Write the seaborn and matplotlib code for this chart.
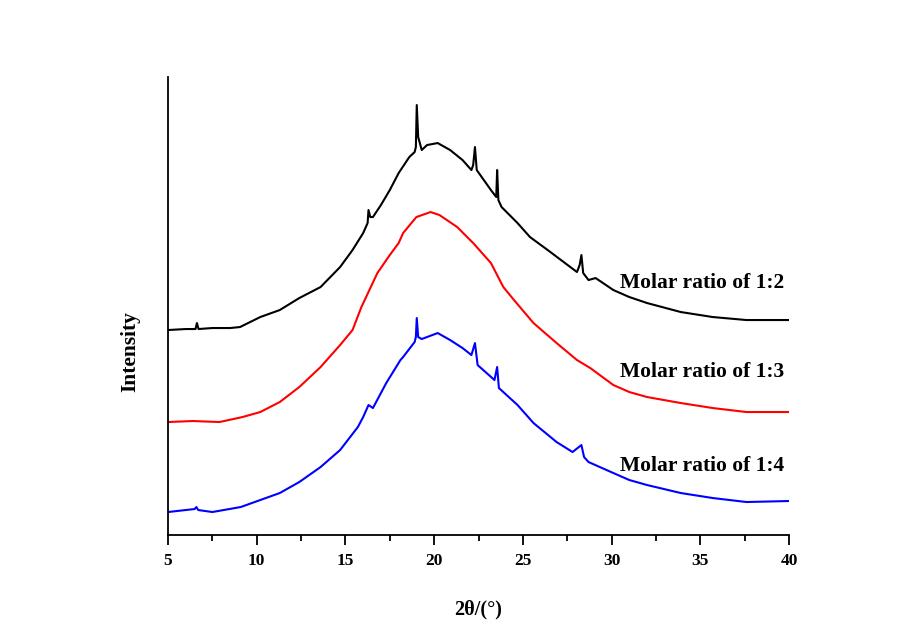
import matplotlib
matplotlib.use("Agg")
import matplotlib.pyplot as plt
import seaborn as sns
import pandas as pd
from matplotlib.ticker import MultipleLocator

# ---- data (2theta in degrees, intensity in arbitrary offset units) ----
x_12 = [5.0, 6.0, 6.55, 6.63, 6.72, 7.5, 8.5, 9.06, 10.2, 11.3, 12.4, 13.6, 14.7, 15.4, 16.0,
        16.25, 16.3, 16.4, 16.55, 17.0, 17.5, 18.0, 18.6, 18.9, 18.97, 19.02, 19.1, 19.3, 19.6,
        20.2, 20.9, 21.6, 22.1, 22.2, 22.3, 22.4, 22.6, 23.2, 23.5, 23.55, 23.62, 23.8, 24.7,
        25.4, 26.4, 27.3, 28.05, 28.2, 28.3, 28.4, 28.7, 29.1, 30.1, 31.0, 32.0, 33.9, 35.7,
        37.6, 40.0]
y_12 = [205, 206, 206, 212, 206, 207, 207, 208, 218, 225, 237, 248, 268, 285, 302,
        312, 325, 318, 318, 330, 345, 362, 378, 383, 388, 430, 398, 385, 390,
        392, 385, 375, 365, 370, 388, 365, 360, 345, 338, 365, 335, 328, 312,
        298, 285, 273, 263, 270, 280, 262, 255, 257, 245, 238, 232, 223, 218,
        215, 215]

x_13 = [5.0, 6.4, 7.9, 9.2, 10.2, 11.3, 12.4, 13.6, 14.7, 15.4, 15.9, 16.8, 17.5, 18.0, 18.25,
        19.0, 19.8, 20.3, 21.3, 22.2, 23.2, 23.9, 24.5, 25.6, 26.9, 28.05, 28.8, 30.1, 31.0,
        32.0, 33.9, 35.7, 37.6, 40.0]
y_13 = [113, 114, 113, 118, 123, 133, 148, 168, 190, 205, 228, 262, 280, 292, 302,
        318, 323, 320, 308, 292, 272, 248, 235, 212, 192, 175, 167, 150, 143,
        138, 132, 127, 123, 123]

x_14 = [5.0, 6.5, 6.6, 6.7, 7.5, 9.1, 10.2, 11.3, 12.4, 13.6, 14.7, 15.7, 16.0, 16.3, 16.55,
        17.3, 18.1, 18.25, 18.9, 18.97, 19.02, 19.1, 19.3, 20.2, 20.9, 21.6, 22.1, 22.3, 22.45,
        23.4, 23.55, 23.65, 24.7, 25.6, 26.9, 27.8, 28.3, 28.45, 28.7, 30.1, 31.0, 32.0, 33.9,
        35.7, 37.6, 40.0]
y_14 = [23, 26, 28, 25, 23, 28, 35, 42, 53, 68, 85, 108, 118, 130, 127,
        152, 175, 178, 193, 198, 217, 198, 196, 202, 195, 187, 180, 192, 170,
        155, 168, 147, 130, 112, 93, 83, 90, 78, 73, 62, 55, 50, 42,
        37, 33, 34]

series_names = ["Molar ratio of 1:2", "Molar ratio of 1:3", "Molar ratio of 1:4"]
series_colors = ["#000000", "#ff0000", "#0000ff"]
label_pos = [(30.45, 252), (30.45, 163), (30.45, 69)]
x_ticks = [5, 10, 15, 20, 25, 30, 35, 40]

frames = []
for name, xs, ys in zip(series_names, [x_12, x_13, x_14], [y_12, y_13, y_14]):
    frames.append(pd.DataFrame({"theta": xs, "intensity": ys, "sample": name}))
df = pd.concat(frames, ignore_index=True)

sns.set_style("ticks")
plt.rcParams["font.family"] = ["Liberation Serif", "DejaVu Serif"]
plt.rcParams["font.weight"] = "bold"
plt.rcParams["text.color"] = "black"
plt.rcParams["axes.labelcolor"] = "black"
plt.rcParams["xtick.color"] = "black"

fig = plt.figure(figsize=(8.97, 6.31), dpi=100)
ax = fig.add_axes([0.1873, 0.1521, 0.6923, 0.7258])

sns.lineplot(data=df, x="theta", y="intensity", hue="sample",
             palette=dict(zip(series_names, series_colors)),
             linewidth=1.5, legend=False, ax=ax, sort=False, estimator=None)

for name, (tx, ty) in zip(series_names, label_pos):
    ax.text(tx, ty, name, fontsize=15.5, fontweight="bold", ha="left", va="center",
            color="black")

ax.set_xlim(5, 40)
ax.set_ylim(0, 458)
ax.set_xticks(x_ticks)
ax.xaxis.set_minor_locator(MultipleLocator(2.5))
ax.set_yticks([])

for s in ["top", "right"]:
    ax.spines[s].set_visible(False)
for s in ["left", "bottom"]:
    ax.spines[s].set_linewidth(1.3)
    ax.spines[s].set_color("black")

ax.tick_params(axis="x", which="major", length=7, width=1.3, direction="out",
               labelsize=12.5, pad=6, colors="black", labelcolor="black")
ax.tick_params(axis="x", which="minor", length=4, width=1.3, direction="out", colors="black")
for lab in ax.get_xticklabels():
    lab.set_fontweight("bold")

ax.set_xlabel("2θ/(°)", fontsize=14.5, fontweight="bold", labelpad=22, color="black")
ax.set_ylabel("Intensity", fontsize=15.5, fontweight="bold", color="black")
ax.yaxis.set_label_coords(-0.045, 0.40)

fig.savefig("out.png", dpi=100, facecolor="white")
